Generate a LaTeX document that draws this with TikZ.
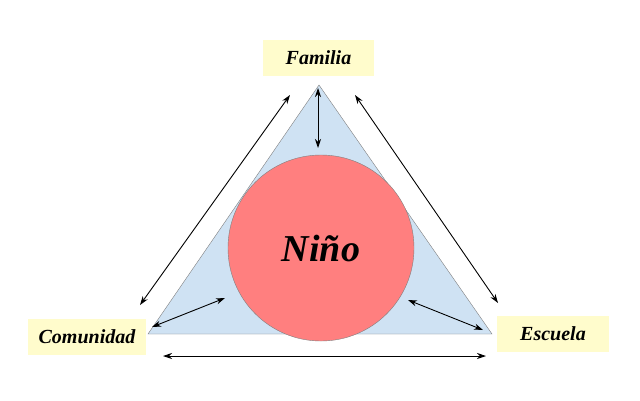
\documentclass[tikz,border=0pt]{standalone}
\usepackage{fontspec}
\setmainfont{Liberation Serif}
\usetikzlibrary{arrows.meta}
\begin{document}
\begin{tikzpicture}[x=1pt,y=-1pt,
  lbl/.style={fill=yellow!20, inner sep=0pt, minimum height=36pt, font=\fontsize{20}{24}\selectfont\bfseries\itshape},
  arr/.style={{Stealth[length=9pt,width=6pt]}-{Stealth[length=9pt,width=6pt]}, line width=0.9pt}]
\useasboundingbox (0,0) rectangle (640,400);
\fill[white] (0,0) rectangle (640,400);
\coordinate (A) at (319,85);
\coordinate (B) at (148,334);
\coordinate (C) at (492,334);
\draw[fill={rgb,255:red,207;green,226;blue,243}, draw=gray] (A) -- (B) -- (C) -- cycle;
\node[circle, minimum size=186pt, inner sep=0pt, fill={rgb,255:red,255;green,127;blue,127}, draw=gray, font=\fontsize{38}{44}\selectfont\bfseries\itshape] (n) at (321,248) {Niño};
\node[lbl, minimum width=111pt] (f) at (318.5,58) {Familia};
\node[lbl, minimum width=118pt] (c) at (87,336.5) {Comunidad};
\node[lbl, minimum width=112pt] (e) at (553,334) {Escuela};
\coordinate (a1) at (290,95); \coordinate (a2) at (140,305);
\coordinate (b1) at (355,95); \coordinate (b2) at (498,303);
\coordinate (c1) at (163,356); \coordinate (c2) at (486,356);
\coordinate (d1) at (318,88); \coordinate (d2) at (318,148);
\coordinate (e1) at (152,327); \coordinate (e2) at (225,298);
\coordinate (g1) at (408,300); \coordinate (g2) at (483,330);
\draw[arr] (a1) -- (a2);
\draw[arr] (b1) -- (b2);
\draw[arr] (c1) -- (c2);
\draw[arr] (d1) -- (d2);
\draw[arr] (e1) -- (e2);
\draw[arr] (g1) -- (g2);
\end{tikzpicture}
\end{document}
